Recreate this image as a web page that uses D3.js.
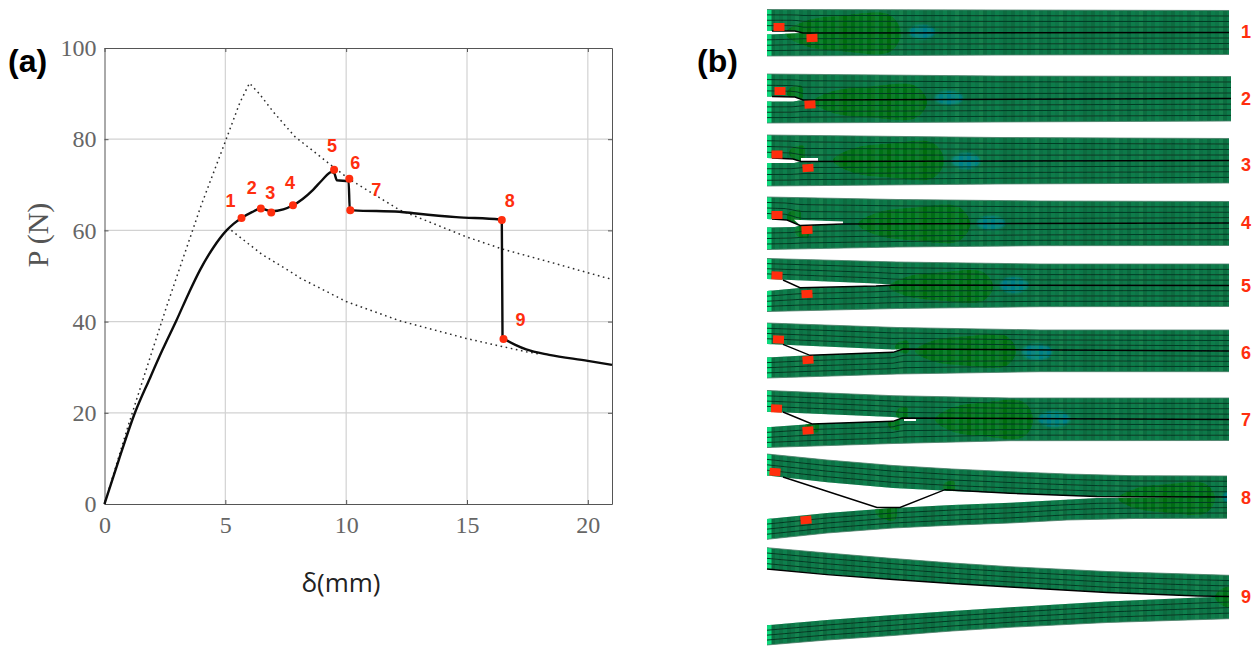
<!DOCTYPE html>
<html>
<head>
    <title>Load displacement and delamination stages</title>
    <style type="text/css">
        body{ margin: 0; background-color: #fff; }
        svg{ display: block; }
        .axis path, .axis line{ stroke: #555; }
        .axis text{ fill: #666; font-family: "Liberation Serif", serif; font-size: 24px; }
        .panel{ font-family: "Liberation Sans", sans-serif; font-weight: bold; font-size: 32px; fill: #000; }
        .red{ font-family: "Liberation Sans", sans-serif; font-weight: bold; fill: #ff2e0e; }
    </style>
    <script type="text/javascript" src="https://cdn.jsdelivr.net/npm/d3@7/dist/d3.min.js"></script>
</head>
<body>
<div id="chart"></div>
<script type="text/javascript">
// load curve, [delta, P]
var solidCurve = [[0,0],[0.6,9.8],[1.26,20],[1.88,27.6],[2.4,33.8],[2.98,40.3],[3.5,46.4],[3.95,51.3],[4.5,56.2],[5.05,60],[5.35,61.5],[5.67,62.7],[6.1,64],[6.47,64.8],[6.9,64.2],[7.4,64.6],[7.8,65.5],[8.2,66.9],[8.63,68.9],[9,71],[9.4,72.8],[9.5,72.6],[9.62,71],[10.1,70.8],[10.15,64.6],[10.3,64.4],[12.2,64.1],[12.9,63.7],[14.55,62.9],[16.35,62.4],[16.44,62.3],[16.47,36.4],[16.6,36],[17,34.9],[17.45,33.9],[18.4,32.7],[20,31.4],[21,30.5]];
var upperBound = [[0,0],[1,17.5],[2,34],[2.57,43.3],[3,50],[4,65.5],[5,79.5],[5.6,88],[6,92.3],[6.4,90],[7,85.9],[7.87,80.6],[9.45,74],[10.14,71.2],[12.2,64.5],[14.97,58.6],[16.47,55.9],[18.4,53.1],[20.75,49.6],[21,49.3]];
var lowerBound = [[5.25,60],[6.5,54.8],[7.8,50.6],[8.08,49.6],[10,44.4],[12.2,40.2],[14.97,36.3],[16.48,34.5],[17.45,33.4],[18,32.9]];
var markerDelta = [5.67,6.47,6.9,7.8,9.5,10.13,10.17,16.44,16.51];
var markerLoad = [62.7,64.8,63.9,65.5,73.3,71.3,64.4,62.3,36.2];
var stageNames = ['1','2','3','4','5','6','7','8','9'];
var xTicks = [0,5,10,15,20];
var yTicks = [0,20,40,60,80,100];

// beam outlines, [distance along beam, height]
var topEdges = [
    [[0,9.5],[230,10],[462,10.5]],
    [[0,74],[230,76],[464,76.5]],
    [[0,135],[230,137.5],[462,138.5]],
    [[0,197],[130,199.5],[273,201],[462,201.5]],
    [[0,258.5],[130,262],[273,264],[462,264]],
    [[0,323],[130,327.5],[273,330],[462,330]],
    [[0,390.5],[126,395.7],[243,398],[462,398]],
    [[0,454],[60,460],[126,465.5],[185,469],[243,471.7],[300,474],[366,475.7],[460,476]],
    [[0,547.7],[60,553],[126,558.5],[185,563],[243,566.7],[340,571.5],[462,575.3]]
];
var upperEdges = [
    [[0,31],[28,31],[36,33],[462,32.5]],
    [[0,96.5],[28,97],[36,100],[464,98.5]],
    [[0,158],[26,159],[34,161.5],[462,160.5]],
    [[0,219],[20,220],[33,225.5],[462,223]],
    [[0,279],[109,283.5],[130,285],[462,285.5]],
    [[0,344],[126,349.5],[136,349],[462,351]],
    [[0,411.7],[126,417],[135,418],[462,419.5]],
    [[0,475.6],[60,482.3],[126,488],[185,491],[243,493.3],[330,496.5],[460,497]],
    [[0,569],[60,574.6],[126,579.5],[185,583.5],[243,587],[340,592.5],[432,596],[462,596.5]]
];
var lowerEdges = [
    [[0,34.5],[28,33.5],[36,33],[462,32.5]],
    [[0,101.5],[26,101.5],[36,100],[464,98.5]],
    [[0,163],[27,163],[34,161.5],[462,160.5]],
    [[0,227.5],[28,227],[33,225.5],[462,223]],
    [[0,291],[33,288],[109,286],[130,285],[462,285.5]],
    [[0,357.5],[43,355.3],[126,352.3],[136,349],[462,351]],
    [[0,427.3],[45,424],[126,421.3],[135,418],[462,419.5]],
    [[0,519],[60,513],[126,508],[185,505],[243,502.7],[330,498],[460,497]],
    [[0,625.3],[60,620],[126,615],[185,611],[243,607.3],[340,601.5],[432,597.5],[462,596.5]]
];
var bottomEdges = [
    [[0,56],[230,55],[462,54.5]],
    [[0,123],[230,122],[464,121]],
    [[0,186],[230,184],[462,183]],
    [[0,249.5],[130,247],[273,245.7],[462,245.5]],
    [[0,311.5],[130,308.5],[273,306.7],[462,306.5]],
    [[0,378],[130,374],[273,371.7],[462,371.7]],
    [[0,447.5],[126,443.5],[243,440.7],[462,440.5]],
    [[0,539.3],[60,533],[126,528],[185,525.2],[243,523],[300,520],[366,518.5],[460,518.3]],
    [[0,645],[60,640],[126,635.5],[185,631],[243,627.3],[340,622.5],[462,618.7]]
];
var crackLines = [
    [[5,31],[28,31],[36,33],[462,32.5]],
    [[5,96.5],[28,97],[36,100],[464,98.5]],
    [[5,158],[26,159],[34,161.5],[462,160.5]],
    [[5,219],[20,220],[33,225.5],[76,224],[462,223]],
    [[16,280],[33,287.7],[109,286],[130,285],[462,285.5]],
    [[16,344.3],[43,355.3],[126,352.3],[136,349],[462,351]],
    [[16,412],[45,424],[126,421.3],[135,418],[462,419.5]],
    [[16,477],[110,507.5],[133,507.5],[178,489.7],[243,493.3],[330,496.5],[460,497]],
    [[0,569],[60,574.6],[126,579.5],[185,583.5],[243,587],[340,592.5],[432,596],[462,596.5]]
];
var openSlits = [
    [],
    [],
    [[34,158],[51,158],[51,161.3],[34,161.3]],
    [[27,219.7],[76,221.5],[76,224],[33,225.3]],
    [],
    [],
    [[137,418],[149,418.2],[149,420.9],[137,420.9]],
    [],
    []
];
// damage zones, [from, to, top, bottom]
var damageZones = [
    [[18,134,15,52]],
    [[46,160,86,118],[20,36,86,100]],
    [[66,177,143,178],[22,38,146,160]],
    [[91,203,207,241],[20,34,210,224],[28,42,225,238]],
    [[122,226,272,301]],
    [[148,249,336,366],[128,142,341,353]],
    [[168,266,402,437],[129,141,407,420],[121,133,418,430],[38,52,420,432]],
    [[351,448,484,513],[108,130,502,520],[176,188,481,492]],
    [[448,480,586,608]]
];
// softening zones, [centre, height, half width, half height]
var softZones = [
    [155,32,13,7],
    [182,98,14,7],
    [199,161,14,8],
    [224,223,14,7],
    [247,285,14,8],
    [270,352,15,8],
    [287,419,16,8],
    [462,497,6,6],
    null
];
// loading blocks, [distance along beam, height, tilt]
var blocks = [
    [[12,27,0],[45,38,-2]],
    [[13,91,0],[43,104.5,-3]],
    [[10,154.5,0],[41,168,-4]],
    [[10,215,0],[40,230,-3]],
    [[10,275.5,2],[40,294,-3]],
    [[11.5,339.5,2],[41,360,-4]],
    [[9.5,408.5,3],[41,430.5,-4]],
    [[8,472,4],[39,520,-5]],
    []
];
var stageLabelY = [32,99,165,223,286,353,420,498,597];
var stripeShades = [0.35,0.1,0.5,0.25,0.6,0.15,0.4,0.7,0.2,0.45,0.05,0.55,0.3,0.65,0.12,0.5,0.22,0.6,0.38,0.08];

var width = 1257, height = 646;
var svg = d3.select('#chart').append('svg')
    .attr('width', width)
    .attr('height', height);

var defs = svg.append('defs');
defs.append('filter').attr('id', 'soft')
    .attr('x', '-2%').attr('y', '-5%').attr('width', '104%').attr('height', '110%')
    .append('feGaussianBlur').attr('stdDeviation', 0.3);
defs.append('filter').attr('id', 'softer')
    .attr('x', '-30%').attr('y', '-30%').attr('width', '160%').attr('height', '160%')
    .append('feGaussianBlur').attr('stdDeviation', 1.2);

// (a) load displacement plot
var xScale = d3.scaleLinear().domain([0,21]).range([104.5,612]);
var yScale = d3.scaleLinear().domain([0,100]).range([504,48]);

var plot = svg.append('g');
plot.selectAll('.gridx').data(xTicks.slice(1))
    .enter().append('line')
    .attr('x1', function(d){ return xScale(d); })
    .attr('x2', function(d){ return xScale(d); })
    .attr('y1', yScale(100)).attr('y2', yScale(0))
    .attr('stroke', '#d2d2d2').attr('stroke-width', 1.2);
plot.selectAll('.gridy').data(yTicks.slice(1,5))
    .enter().append('line')
    .attr('y1', function(d){ return yScale(d); })
    .attr('y2', function(d){ return yScale(d); })
    .attr('x1', xScale(0)).attr('x2', xScale(21))
    .attr('stroke', '#d2d2d2').attr('stroke-width', 1.2);

var xAxis = d3.axisBottom(xScale).tickValues(xTicks).tickSizeInner(-4).tickSizeOuter(0).tickPadding(12);
var yAxis = d3.axisLeft(yScale).tickValues(yTicks).tickSizeInner(-4).tickSizeOuter(0).tickPadding(8);
plot.append('g').attr('class', 'axis').attr('transform', 'translate(0,504)').call(xAxis);
plot.append('g').attr('class', 'axis').attr('transform', 'translate(104.5,0)').call(yAxis);
plot.append('g').attr('class', 'axis').attr('transform', 'translate(0,48)')
    .call(d3.axisTop(xScale).tickValues(xTicks).tickSizeInner(-4).tickSizeOuter(0).tickFormat(''));
plot.append('g').attr('class', 'axis').attr('transform', 'translate(612,0)')
    .call(d3.axisRight(yScale).tickValues(yTicks).tickSizeInner(-4).tickSizeOuter(0).tickFormat(''));

var line = d3.line()
    .x(function(d){ return xScale(d[0]); })
    .y(function(d){ return yScale(d[1]); });

[upperBound, lowerBound].forEach(function(c){
    plot.append('path').attr('d', line(c))
        .attr('fill', 'none').attr('stroke', '#2a2a2a')
        .attr('stroke-width', 1.5).attr('stroke-dasharray', '1.6 3.6');
});
plot.append('path').attr('d', line.curve(d3.curveMonotoneX)(solidCurve))
    .attr('fill', 'none').attr('stroke', '#0c0c0c')
    .attr('stroke-width', 2.4).attr('stroke-linejoin', 'round');

plot.selectAll('.dot').data(markerDelta)
    .enter().append('circle')
    .attr('class', 'dot')
    .attr('cx', function(d){ return xScale(d); })
    .attr('cy', function(d,i){ return yScale(markerLoad[i]); })
    .attr('r', 4)
    .attr('fill', '#ff2e0e');

var labelDx = [-11,-9,-1,-3,-2,6,26,8,17];
var labelDy = [-17,-21,-20,-22,-24,-16,-20,-19,-19];
plot.selectAll('.num').data(stageNames)
    .enter().append('text')
    .attr('class', 'red')
    .attr('font-size', 18)
    .attr('text-anchor', 'middle')
    .attr('dominant-baseline', 'central')
    .attr('x', function(d,i){ return xScale(markerDelta[i]) + labelDx[i]; })
    .attr('y', function(d,i){ return yScale(markerLoad[i]) + labelDy[i]; })
    .text(function(d){ return d; });

svg.append('text').attr('transform', 'translate(48,235) rotate(-90)')
    .attr('text-anchor', 'middle')
    .attr('font-family', '"Liberation Serif", serif')
    .attr('font-size', 30).attr('fill', '#555')
    .text('P (N)');
svg.append('text').attr('x', 341).attr('y', 592)
    .attr('text-anchor', 'middle')
    .attr('font-family', '"Open Sans", sans-serif')
    .attr('font-size', 26).attr('fill', '#222')
    .text('δ(mm)');
svg.append('text').attr('class', 'panel').attr('x', 8).attr('y', 72).text('(a)');
svg.append('text').attr('class', 'panel').attr('x', 697).attr('y', 72).text('(b)');

// (b) beam stages
var beamX = d3.scaleLinear().domain([0,462]).range([767,1229]);
var beamY = d3.scaleLinear().domain([0,646]).range([0,646]);
var edgeLine = d3.line()
    .x(function(d){ return beamX(d[0]); })
    .y(function(d){ return beamY(d[1]); });

function edgeScale(edge){
    return d3.scaleLinear()
        .domain(edge.map(function(d){ return d[0]; }))
        .range(edge.map(function(d){ return d[1]; }));
}

function armOutline(a, b){
    return edgeLine(a.concat(b.slice().reverse())) + 'Z';
}

var zoneShape = d3.line().curve(d3.curveCatmullRomClosed.alpha(0.5))
    .x(function(d){ return beamX(d[0]); })
    .y(function(d){ return beamY(d[1]); });

function zonePoints(z){
    var w = z[1] - z[0], h = z[3] - z[2], m = (z[2] + z[3]) / 2;
    return [[z[0],m],[z[0]+w*0.18,z[2]+h*0.16],[z[0]+w*0.5,z[2]+h*0.02],[z[1]-w*0.1,z[2]],
        [z[1],m],[z[1]-w*0.1,z[3]],[z[0]+w*0.5,z[3]-h*0.02],[z[0]+w*0.18,z[3]-h*0.16]];
}

stageNames.forEach(function(name, i){
    var top = topEdges[i], upper = upperEdges[i], lower = lowerEdges[i], bottom = bottomEdges[i];
    var len = d3.max(top, function(d){ return d[0]; });
    var stage = svg.append('g').attr('filter', 'url(#soft)');

    var clip = defs.append('clipPath').attr('id', 'arms' + i);
    clip.append('path').attr('d', armOutline(top, upper));
    clip.append('path').attr('d', armOutline(lower, bottom));

    var body = stage.append('g').attr('clip-path', 'url(#arms' + i + ')');
    body.append('rect')
        .attr('x', beamX(0)).attr('y', beamY(d3.min(top, function(d){ return d[1]; })) - 1)
        .attr('width', beamX(len) - beamX(0))
        .attr('height', 200)
        .attr('fill', '#09693f');

    body.selectAll('.zone').data(damageZones[i])
        .enter().append('path')
        .attr('d', function(d){ return zoneShape(zonePoints(d)); })
        .attr('fill', '#006a08')
        .attr('filter', 'url(#soft)');

    if (softZones[i]) {
        var s = softZones[i];
        body.append('ellipse')
            .attr('cx', beamX(s[0])).attr('cy', beamY(s[1]))
            .attr('rx', s[2]).attr('ry', s[3])
            .attr('fill', '#067c8a')
            .attr('filter', 'url(#softer)');
    }

    // element columns
    body.selectAll('.col').data(d3.range(0, len, 4))
        .enter().append('rect')
        .attr('x', function(d){ return beamX(d); })
        .attr('y', beamY(d3.min(top, function(d){ return d[1]; })) - 1)
        .attr('width', 4)
        .attr('height', 200)
        .attr('fill', '#22a868')
        .attr('opacity', function(d,j){ return stripeShades[j % stripeShades.length] * 0.6; });

    body.append('rect')
        .attr('x', beamX(0)).attr('y', beamY(top[0][1]) - 1)
        .attr('width', 4.5).attr('height', 200)
        .attr('fill', '#10d87c');

    // layer lines, three inside each arm
    var stations = d3.range(0, len + 1, 6).concat([len]);
    [[top, upper], [lower, bottom]].forEach(function(pair){
        var a = edgeScale(pair[0]), b = edgeScale(pair[1]);
        [0.25, 0.5, 0.75].forEach(function(f){
            var pts = stations.map(function(x){ return [x, a(x) + (b(x) - a(x)) * f]; });
            body.append('path').attr('d', edgeLine(pts))
                .attr('fill', 'none').attr('stroke', '#063a24').attr('stroke-width', 1);
        });
    });

    stage.append('path').attr('d', edgeLine(top))
        .attr('fill', 'none').attr('stroke', '#4d7f6a').attr('stroke-width', 0.8);
    stage.append('path').attr('d', edgeLine(bottom))
        .attr('fill', 'none').attr('stroke', '#4d7f6a').attr('stroke-width', 0.8);

    if (openSlits[i].length) {
        stage.append('path').attr('d', edgeLine(openSlits[i]) + 'Z').attr('fill', '#fff');
    }

    stage.append('path').attr('d', edgeLine(crackLines[i]))
        .attr('fill', 'none').attr('stroke', '#050505').attr('stroke-width', 1.4);

    stage.selectAll('.block').data(blocks[i])
        .enter().append('rect')
        .attr('x', -5.5).attr('y', -4)
        .attr('width', 11).attr('height', 8)
        .attr('fill', '#ff2e0a')
        .attr('transform', function(d){
            return 'translate(' + beamX(d[0]) + ',' + beamY(d[1]) + ') rotate(' + d[2] + ')';
        });

    svg.append('text').attr('class', 'red')
        .attr('font-size', 18)
        .attr('text-anchor', 'middle')
        .attr('dominant-baseline', 'central')
        .attr('x', 1246).attr('y', stageLabelY[i])
        .text(name);
});
</script>
</body>
</html>
